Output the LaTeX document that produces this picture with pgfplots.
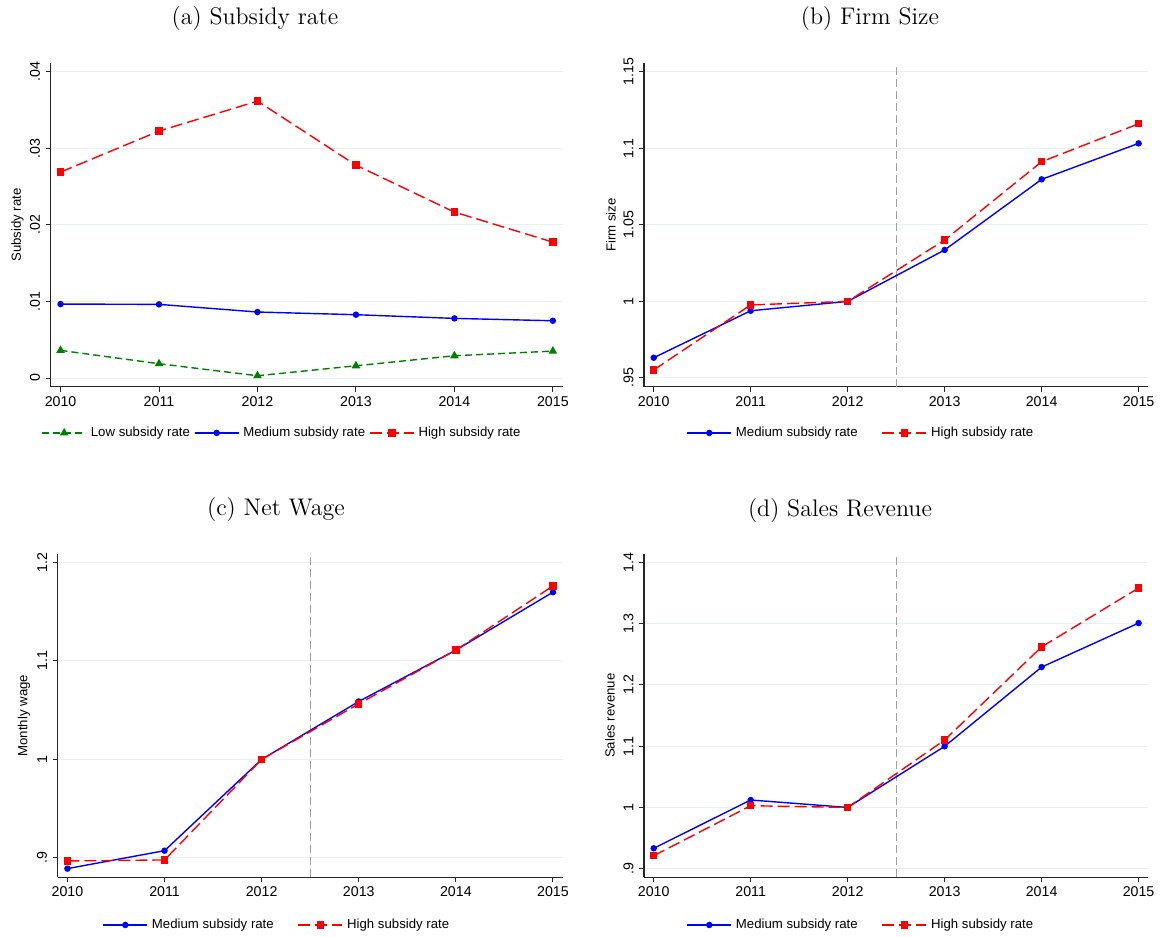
\documentclass[border=0pt]{standalone}
\usepackage{pgfplots}
\pgfplotsset{compat=1.18}
\usepackage{fontspec}
\newfontfamily\arial{Liberation Sans}
\newcommand\smallsans{\arial\fontsize{6.6}{8}\selectfont}
\newcommand\ticksans{\arial\fontsize{7.1}{8.5}\selectfont}

\definecolor{gridc}{RGB}{232,240,241}
\definecolor{sgreen}{RGB}{0,128,0}
\definecolor{vline}{RGB}{160,160,160}

\pgfplotsset{
  panel/.style={
    scale only axis,
    axis lines*=left,
    axis line style={black!85, line width=0.6pt},
    tick align=outside,
    major tick length=2.5pt,
    tick style={black!85, line width=0.5pt},
    scaled y ticks=false,
    xmin=2009.9, xmax=2015.1,
    xtick={2010,2011,2012,2013,2014,2015},
    xticklabels={2010,2011,2012,2013,2014,2015},
    ymajorgrids,
    grid style={gridc, line width=0.5pt},
    ticklabel style={font=\ticksans},
    xticklabel style={inner sep=2pt},
    yticklabel style={rotate=90, anchor=south, inner sep=2.6pt},
    ylabel style={font=\smallsans, anchor=center},
    legend style={draw=none, fill=none, font=\smallsans, anchor=center,
      legend columns=-1},
    legend image code/.code={%
      \draw[mark repeat=2, mark phase=2, #1] plot coordinates {(0pt,0pt) (11pt,0pt) (22pt,0pt)};},
  },
  med/.style={blue, line width=0.7pt, mark=*, mark size=1.25pt, mark options={solid}},
  high/.style={red, line width=0.7pt, dash pattern=on 6pt off 2.5pt, mark=square*, mark size=1.5pt, mark options={solid}},
  low/.style={sgreen, line width=0.7pt, dash pattern=on 3.5pt off 2pt, mark=triangle*, mark size=1.8pt, mark options={solid}},
  vref/.style={vline, line width=0.5pt, dash pattern=on 4pt off 2pt, forget plot},
}

\begin{document}
\begin{tikzpicture}
\path[use as bounding box] (0,0) rectangle (581.5pt,468.5pt);

% (a) Subsidy rate
\node[font=\large] at (127.5pt,459pt) {(a) Subsidy rate};
\begin{axis}[panel,
  at={(25.35pt,275.15pt)}, anchor=south west,
  width=256pt, height=161.7pt,
  ymin=-0.00113, ymax=0.0411,
  ytick={0,0.01,0.02,0.03,0.04},
  yticklabels={0,.01,.02,.03,.04},
  ylabel={Subsidy rate},
  ylabel style={at={(axis description cs:-0.0648,0.5)}},
  legend style={at={(0.4537,-0.143)}},
]
\addplot[low] coordinates {(2010,0.00361) (2011,0.00187) (2012,0.0003) (2013,0.0016) (2014,0.00291) (2015,0.00352)};
\addlegendentry{Low subsidy rate}
\addplot[med] coordinates {(2010,0.00966) (2011,0.00962) (2012,0.00862) (2013,0.00827) (2014,0.00779) (2015,0.00748)};
\addlegendentry{Medium subsidy rate}
\addplot[high] coordinates {(2010,0.02689) (2011,0.03225) (2012,0.03616) (2013,0.0278) (2014,0.02167) (2015,0.01775)};
\addlegendentry{High subsidy rate}
\end{axis}

% (b) Firm size
\node[font=\large] at (435pt,459pt) {(b) Firm Size};
\begin{axis}[panel,
  at={(322pt,275.15pt)}, anchor=south west,
  width=252.15pt, height=161.7pt,
  ymin=0.9443, ymax=1.1555,
  ytick={0.95,1,1.05,1.1,1.15},
  yticklabels={.95,1,1.05,1.1,1.15},
  ylabel={Firm size},
  ylabel style={at={(axis description cs:-0.0654,0.5)}},
  legend style={at={(0.432,-0.143)}, /tikz/every even column/.append style={column sep=10pt}},
]
\addplot[vref] coordinates {(2012.5,0.9443) (2012.5,1.1555)};
\addplot[med] coordinates {(2010,0.9632) (2011,0.9939) (2012,1.0) (2013,1.0336) (2014,1.0797) (2015,1.1032)};
\addlegendentry{Medium subsidy rate}
\addplot[high] coordinates {(2010,0.9552) (2011,0.9977) (2012,1.0) (2013,1.0401) (2014,1.0912) (2015,1.116)};
\addlegendentry{High subsidy rate}
\end{axis}

% (c) Net wage
\node[font=\large] at (138pt,213.5pt) {(c) Net Wage};
\begin{axis}[panel,
  at={(28.85pt,29.85pt)}, anchor=south west,
  width=252.5pt, height=161.65pt,
  ymin=0.8804, ymax=1.2084,
  ytick={0.9,1,1.1,1.2},
  yticklabels={.9,1,1.1,1.2},
  ylabel={Monthly wage},
  ylabel style={at={(axis description cs:-0.0667,0.5)}},
  legend style={at={(0.436,-0.1475)}, /tikz/every even column/.append style={column sep=10pt}},
]
\addplot[vref] coordinates {(2012.5,0.8804) (2012.5,1.2084)};
\addplot[med] coordinates {(2010,0.8892) (2011,0.9074) (2012,1.0) (2013,1.0588) (2014,1.1109) (2015,1.1697)};
\addlegendentry{Medium subsidy rate}
\addplot[high] coordinates {(2010,0.897) (2011,0.898) (2012,1.0) (2013,1.0564) (2014,1.1109) (2015,1.176)};
\addlegendentry{High subsidy rate}
\end{axis}

% (d) Sales revenue
\node[font=\large] at (420pt,213pt) {(d) Sales Revenue};
\begin{axis}[panel,
  at={(322pt,29.85pt)}, anchor=south west,
  width=252.15pt, height=161.65pt,
  ymin=0.886, ymax=1.4135,
  ytick={0.9,1,1.1,1.2,1.3,1.4},
  yticklabels={.9,1,1.1,1.2,1.3,1.4},
  ylabel={Sales revenue},
  ylabel style={at={(axis description cs:-0.0674,0.5)}},
  legend style={at={(0.432,-0.1475)}, /tikz/every even column/.append style={column sep=10pt}},
]
\addplot[vref] coordinates {(2012.5,0.886) (2012.5,1.4135)};
\addplot[med] coordinates {(2010,0.9333) (2011,1.0121) (2012,1.0) (2013,1.0997) (2014,1.229) (2015,1.3008)};
\addlegendentry{Medium subsidy rate}
\addplot[high] coordinates {(2010,0.9212) (2011,1.0028) (2012,1.0) (2013,1.11) (2014,1.262) (2015,1.358)};
\addlegendentry{High subsidy rate}
\end{axis}
\end{tikzpicture}
\end{document}
